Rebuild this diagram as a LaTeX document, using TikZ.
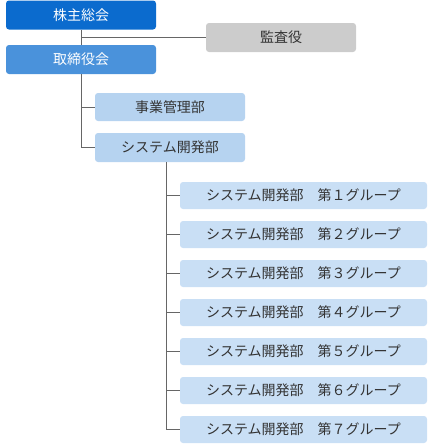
\documentclass[tikz,border=0pt]{standalone}
\usepackage{fontspec}
\setmainfont{Noto Sans CJK JP}
\definecolor{cDark}{HTML}{0B6BCE}
\definecolor{cMid}{HTML}{4A92DB}
\definecolor{cLight}{HTML}{B6D3F0}
\definecolor{cLighter}{HTML}{C9DFF5}
\definecolor{cGray}{HTML}{CCCCCC}
\definecolor{cText}{HTML}{333333}
\definecolor{cLine}{HTML}{666666}
\begin{document}
\begin{tikzpicture}[x=1pt,y=-1pt,
  box/.style={rectangle, rounded corners=3pt, minimum width=150pt, minimum height=29pt, inner sep=0pt, font=\fontsize{14}{16}\selectfont, text=cText},
  top/.style={box, fill=cDark, text=white},
  board/.style={box, fill=cMid, text=white},
  audit/.style={box, fill=cGray},
  dept/.style={box, fill=cLight},
  grp/.style={box, fill=cLighter, minimum width=247pt, minimum height=27pt},
  conn/.style={draw=cLine, line width=1pt}]
\useasboundingbox (0,0) rectangle (432,448);
\node[top] (b1) at (81,15) {株主総会};
\node[audit] (kansa) at (281,37.5) {監査役};
\node[board] (b2) at (81,59.5) {取締役会};
\node[dept, minimum height=28pt] (jigyo) at (170,107) {事業管理部};
\node[dept] (sys) at (170,147.5) {システム開発部};
\node[grp] (g1) at (303.5,195.5) {システム開発部　第１グループ};
\node[grp] (g2) at (303.5,234.5) {システム開発部　第２グループ};
\node[grp] (g3) at (303.5,273.5) {システム開発部　第３グループ};
\node[grp] (g4) at (303.5,312.5) {システム開発部　第４グループ};
\node[grp] (g5) at (303.5,351.5) {システム開発部　第５グループ};
\node[grp] (g6) at (303.5,390.5) {システム開発部　第６グループ};
\node[grp] (g7) at (303.5,429.5) {システム開発部　第７グループ};
\draw[conn] (b1.south) -- (b2.north);
\draw[conn] (b1.south |- kansa.west) -- (kansa.west);
\draw[conn] (b2.south) -- (b2.south |- sys.west) -- (sys.west);
\draw[conn] (b2.south |- jigyo.west) -- (jigyo.west);
\coordinate (sb) at ([xshift=-4pt]sys.south);
\draw[conn] (sb) -- (sb |- g7.west) -- (g7.west);
\foreach \i in {1,...,6}{
  \draw[conn] (sb |- g\i.west) -- (g\i.west);
}
\end{tikzpicture}
\end{document}
